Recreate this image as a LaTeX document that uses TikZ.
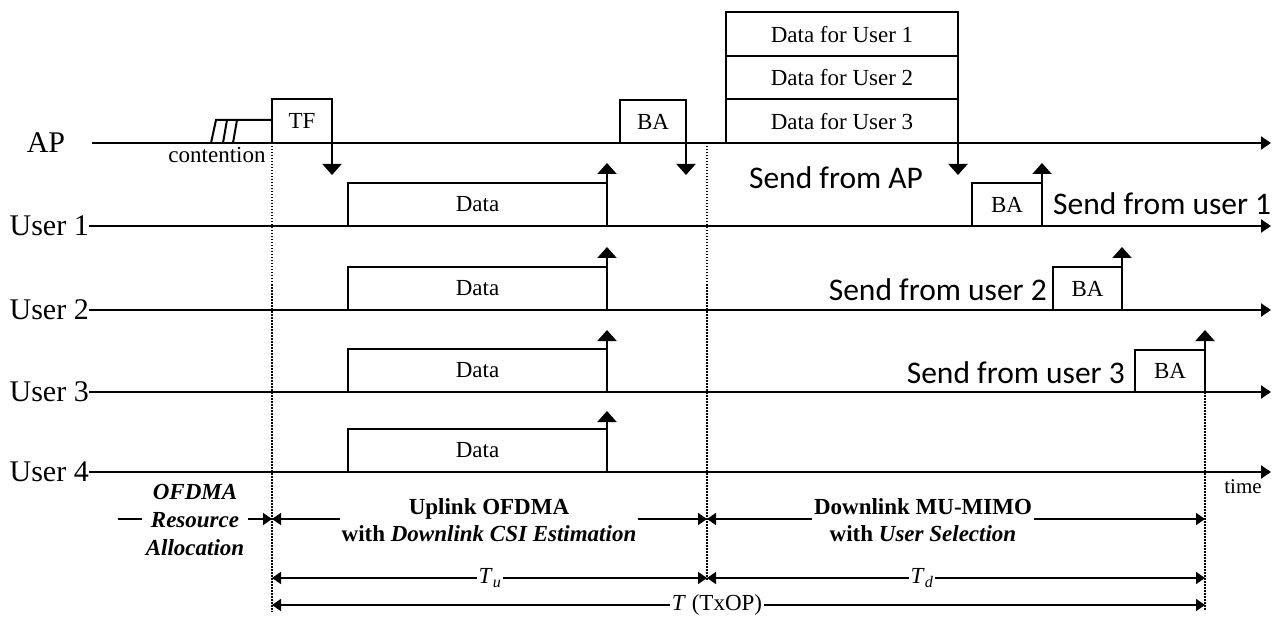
\documentclass[tikz,border=0pt]{standalone}
\usepackage{fontspec}
\setmainfont{Liberation Serif}
\newfontfamily\sendfont{Carlito}
\usetikzlibrary{arrows.meta}
\newcommand\fsz[1]{\fontsize{#1}{#1}\selectfont}
\begin{document}
\begin{tikzpicture}[x=1pt,y=-1pt,
  axis/.style={line width=2pt,-{Triangle[width=13pt,length=10pt]}},
  box/.style={draw,line width=2pt,outer sep=0pt,inner sep=0pt,font=\fsz{23}},
  sig/.style={line width=2pt,-{Triangle[width=19pt,length=11pt]}},
  lbl/.style={font=\fsz{30},inner sep=0pt},
  send/.style={font=\sendfont\fsz{31.5},inner sep=0pt},
  guide/.style={line width=1.2pt,dash pattern=on 1.5pt off 1.5pt},
  dim/.style={line width=1.6pt,{Triangle[width=12pt,length=9pt]}-{Triangle[width=12pt,length=9pt]}},
  dimr/.style={line width=1.6pt,-{Triangle[width=12pt,length=9pt]}},
  dimlbl/.style={font=\fsz{23},fill=white,inner sep=1.5pt},
  section/.style={font=\fontsize{23}{27}\selectfont\bfseries,fill=white,align=center,inner sep=2pt},
]
\useasboundingbox (0,0) rectangle (1273,617);

% time lines
\node[lbl] (ap) at (46,143) {AP};
\coordinate (ap0) at (92,143);
\coordinate (ap1) at (1271,143);
\draw[axis] (ap0) -- (ap1);
\foreach \i/\y in {1/226,2/310,3/392,4/472}{
  \node[lbl,anchor=east] (u\i) at (89,\y) {User \i};
  \coordinate (u\i e) at (1271,\y);
  \draw[axis] (u\i.east) -- (u\i e);
}

% contention and TF
\node[box,minimum width=60pt,minimum height=44pt] (tf) at (302,121) {TF};
\coordinate (c0) at (216,120);
\draw[line width=2pt] (211,143) -- (c0) -- (tf.west |- c0);
\draw[line width=2pt] (223,143) -- (227,120);
\draw[line width=2pt] (233,143) -- (237,120);
\node[font=\fsz{23},inner sep=0pt] (cont) at (217,155) {contention};
\coordinate (tfa) at (332,175);
\draw[sig] (tf.south east) -- (tfa);

% uplink data
\foreach \i/\y/\t in {1/204.5/163,2/288.5/247,3/370.5/330,4/450.5/411}{
  \node[box,minimum width=259pt,minimum height=43pt] (d\i) at (477.5,\y) {Data};
  \coordinate (d\i t) at (607,\t);
  \draw[sig] (d\i.south east) -- (d\i t);
}

% BA from AP
\node[box,minimum width=66pt,minimum height=43pt] (baap) at (653,121.5) {BA};
\coordinate (baapa) at (686,175);
\draw[sig] (baap.south east) -- (baapa);

% downlink data stack
\node[box,minimum width=232pt,minimum height=43.5pt] (du1) at (842,34.25) {Data for User 1};
\node[box,minimum width=232pt,minimum height=43.5pt] (du2) at (842,77.75) {Data for User 2};
\node[box,minimum width=232pt,minimum height=43.5pt] (du3) at (842,121.25) {Data for User 3};
\coordinate (dua) at (958,175);
\draw[sig] (du3.south east) -- (dua);
\node[send] (sap) at (836,178) {Send from AP};

% BAs from users
\node[box,minimum width=70pt,minimum height=43pt] (ba1) at (1007,204.5) {BA};
\coordinate (ba1t) at (1042,163);
\draw[sig] (ba1.south east) -- (ba1t);
\node[send,anchor=west] (s1) at (1053,204) {Send from user 1};

\node[box,minimum width=69pt,minimum height=43pt] (ba2) at (1087.5,288.5) {BA};
\coordinate (ba2t) at (1122,247);
\draw[sig] (ba2.south east) -- (ba2t);
\node[send,anchor=east] (s2) at (1047,290) {Send from user 2};

\node[box,minimum width=70pt,minimum height=42pt] (ba3) at (1170,371) {BA};
\coordinate (ba3t) at (1205,330);
\draw[sig] (ba3.south east) -- (ba3t);
\node[send,anchor=east] (s3) at (1125,373) {Send from user 3};

% guides
\coordinate (g1) at (272,612);
\coordinate (g2a) at (707,143);
\coordinate (g2) at (707,580);
\coordinate (g3) at (1205,610);
\draw[guide] (tf.south west) -- (g1);
\draw[guide] (g2a) -- (g2);
\draw[guide] (ba3.south east) -- (g3);

\node[font=\fsz{21},inner sep=0pt] (time) at (1243,487) {time};

% bottom annotations
\coordinate (r0) at (118,519);
\coordinate (ta) at (272,519);
\coordinate (tb) at (707,519);
\coordinate (tc) at (1205,519);
\draw[dimr] (r0) -- (ta);
\draw[dim] (ta) -- (tb);
\draw[dim] (tb) -- (tc);
\node[section,font=\fontsize{23}{27.5}\selectfont\bfseries\itshape,inner sep=4pt] (ofdma) at (195,520) {OFDMA\\Resource\\Allocation};
\node[section] (ul) at (489,520) {Uplink OFDMA\\with \textit{Downlink CSI Estimation}};
\node[section] (dl) at (923,520) {Downlink MU-MIMO\\with \textit{User Selection}};

\coordinate (ua) at (272,578);
\coordinate (ub) at (707,578);
\coordinate (uc) at (1205,578);
\draw[dim] (ua) -- (ub);
\draw[dim] (ub) -- (uc);
\node[dimlbl] (tu) at (490,578) {\textit{T}\textsubscript{\textit{u}}};
\node[dimlbl] (td) at (922,578) {\textit{T}\textsubscript{\textit{d}}};
\coordinate (va) at (272,605);
\coordinate (vc) at (1205,605);
\draw[dim] (va) -- (vc);
\node[dimlbl] (tt) at (717,605) {\textit{T} (TxOP)};
\end{tikzpicture}
\end{document}
